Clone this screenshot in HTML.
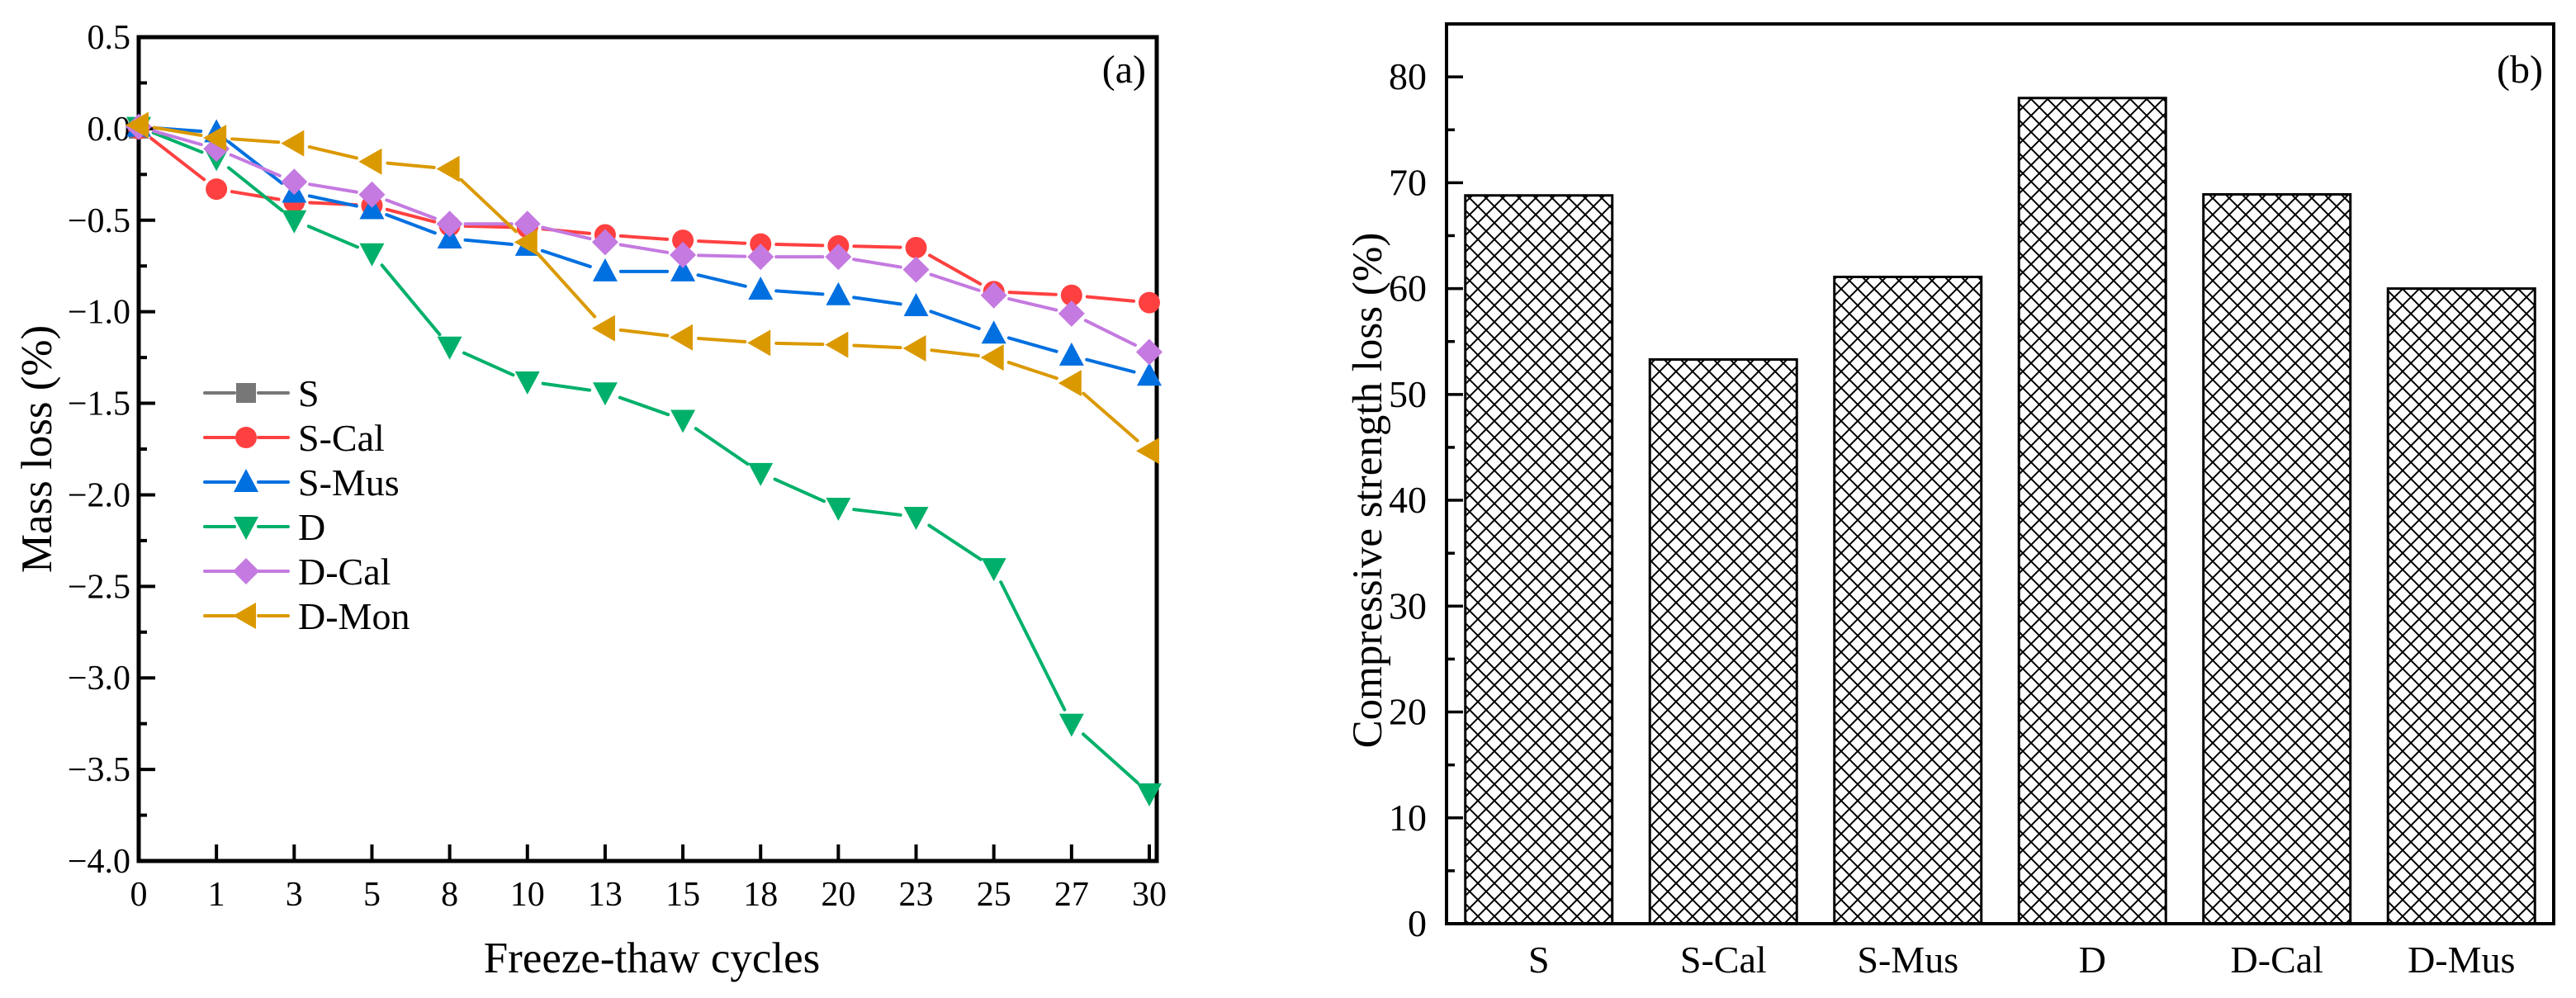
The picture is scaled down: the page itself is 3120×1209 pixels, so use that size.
<!DOCTYPE html>
<html><head><meta charset="utf-8">
<style>
html,body{margin:0;padding:0;background:#fff;}
svg{display:block;font-family:"Liberation Serif",serif;}
</style></head>
<body>
<svg id="chart" width="3120" height="1209" viewBox="0 0 3120 1209" xmlns="http://www.w3.org/2000/svg">
<defs>
<pattern id="hatch" width="20" height="20" patternUnits="userSpaceOnUse">
<path d="M-3,3 L3,-3 M0,20 L20,0 M17,23 L23,17" stroke="#000" stroke-width="2"/>
<path d="M-3,17 L3,23 M0,0 L20,20 M17,-3 L23,3" stroke="#000" stroke-width="2"/>
</pattern>
</defs>
<g id="left"></g>
<g id="right"></g>
</svg>
<script>
const cycles = ["0","1","3","5","8","10","13","15","18","20","23","25","27","30"];
const seriesNames = ["S","S-Cal","S-Mus","D","D-Cal","D-Mon"];
const sVals = [0.0];
const sCalVals = [0.0,-0.33,-0.40,-0.42,-0.53,-0.54,-0.58,-0.61,-0.63,-0.64,-0.65,-0.89,-0.91,-0.95];
const sMusVals = [0.01,-0.02,-0.35,-0.44,-0.60,-0.64,-0.78,-0.78,-0.88,-0.91,-0.97,-1.12,-1.24,-1.35];
const dVals = [0.01,-0.16,-0.50,-0.68,-1.19,-1.38,-1.44,-1.59,-1.88,-2.07,-2.12,-2.40,-3.25,-3.63];
const dCalVals = [0.01,-0.11,-0.29,-0.36,-0.52,-0.52,-0.62,-0.69,-0.70,-0.70,-0.77,-0.91,-1.01,-1.22];
const dMonVals = [0.02,-0.05,-0.08,-0.18,-0.22,-0.62,-1.09,-1.14,-1.17,-1.18,-1.20,-1.25,-1.39,-1.76];
const yTicksA = [0.5,0.0,-0.5,-1.0,-1.5,-2.0,-2.5,-3.0,-3.5,-4.0];
const barCats = ["S","S-Cal","S-Mus","D","D-Cal","D-Mus"];
const barVals = [68.8,53.3,61.1,78.0,68.9,60.0];
const yTicksB = [0,10,20,30,40,50,60,70,80];

const NS="http://www.w3.org/2000/svg";
function mk(parent,tag,attrs,text){const e=document.createElementNS(NS,tag);for(const k in attrs)e.setAttribute(k,attrs[k]);if(text!==undefined)e.textContent=text;parent.appendChild(e);return e;}

// ---------- Chart (a)
const L=document.getElementById('left');
const aX0=168,aX1=1401,aY0=45,aY1=1043,aFirst=168,aStep=(1392-168)/13;
const ax=i=>aFirst+i*aStep;
const ay=v=>aY0+(0.5-v)/4.5*(aY1-aY0);
let frame=mk(L,'rect',{x:aX0,y:aY0,width:aX1-aX0,height:aY1-aY0,fill:'none',stroke:'#000','stroke-width':5});


for(let v=0.5;v>=-4.0001;v-=0.25){
  const major=Math.abs(Math.round(v*2)-v*2)<1e-6;
  const t=mk(L,'line',{x1:aX0,x2:aX0+(major?20:10),y1:ay(v),y2:ay(v),stroke:'#000','stroke-width':4});
  
  
}
yTicksA.forEach(v=>{
  const s=(v<0?'\u2212':'')+Math.abs(v).toFixed(1);
  const t=mk(L,'text',{x:aX0-10,y:ay(v)+14,'font-size':42,'text-anchor':'end'},s);
  
  
});
cycles.forEach((c,i)=>{
  const t=mk(L,'line',{x1:ax(i),x2:ax(i),y1:aY1,y2:aY1-20,stroke:'#000','stroke-width':4});
  
  
  const l=mk(L,'text',{x:ax(i),y:1097,'font-size':42,'text-anchor':'middle'},c);
  
  
});
let xt=mk(L,'text',{x:(aX0+aX1)/2+5,y:1178,'font-size':53,'text-anchor':'middle'},'Freeze-thaw cycles');


let yt=mk(L,'text',{x:0,y:0,'font-size':53,'text-anchor':'middle',transform:`translate(62,${(aY0+aY1)/2}) rotate(-90)`},'Mass loss (%)');


let pa=mk(L,'text',{x:1388,y:100,'font-size':48,'text-anchor':'end'},'(a)');



const colors=['#777777','#FF4040','#0070E0','#00B06A','#C47AE0','#DB9900'];
const shapes=['square','circle','up','down','diamond','left'];
const allVals=[sVals,sCalVals,sMusVals,dVals,dCalVals,dMonVals];
function marker(g,shape,x,y,c){
  const r=14;let e;
  if(shape==='square')e=mk(g,'rect',{x:x-r+2,y:y-r+2,width:2*r-4,height:2*r-4,fill:c});
  else if(shape==='circle')e=mk(g,'circle',{cx:x,cy:y,r:r-1,fill:c});
  else{
    let p;
    if(shape==='up')p=[[x,y-r-2],[x+r+1,y+r-2],[x-r-1,y+r-2]];
    if(shape==='down')p=[[x,y+r+2],[x+r+1,y-r+2],[x-r-1,y-r+2]];
    if(shape==='diamond')p=[[x,y-r-2],[x+r+2,y],[x,y+r+2],[x-r-2,y]];
    if(shape==='left')p=[[x-r-2,y],[x+r-2,y-r-2],[x+r-2,y+r+2]];
    e=mk(g,'polygon',{points:p.map(q=>q.join(',')).join(' '),fill:c});
  }
  return e;
}
function seg(g,x1,y1,x2,y2,c,gap){
  const dx=x2-x1,dy=y2-y1,d=Math.hypot(dx,dy);if(d<2*gap+2)return;
  const ux=dx/d,uy=dy/d;
  mk(g,'line',{x1:x1+ux*gap,y1:y1+uy*gap,x2:x2-ux*gap,y2:y2-uy*gap,stroke:c,'stroke-width':4,'stroke-linecap':'round'});
}
allVals.forEach((vals,si)=>{
  const g=mk(L,'g',{});
  
  
  for(let i=1;i<vals.length;i++)seg(g,ax(i-1),ay(vals[i-1]),ax(i),ay(vals[i]),colors[si],19);
  vals.forEach((v,i)=>{
    const m=marker(g,shapes[si],ax(i),ay(v),colors[si]);
    
    
  });
});
// legend
seriesNames.forEach((n,si)=>{
  const y=476+si*54;
  const g=mk(L,'g',{});
  
  
  mk(g,'line',{x1:248,x2:284,y1:y,y2:y,stroke:colors[si],'stroke-width':4,'stroke-linecap':'round'});
  mk(g,'line',{x1:313,x2:349,y1:y,y2:y,stroke:colors[si],'stroke-width':4,'stroke-linecap':'round'});
  marker(g,shapes[si],298,y,colors[si]);
  mk(g,'text',{x:361,y:y+16,'font-size':46},n);
});

// ---------- Chart (b)
const R=document.getElementById('right');
const bX0=1752,bX1=3093,bY0=29,bY1=1119;
const by=v=>bY1-(v/85)*(bY1-bY0);
const band=(bX1-bX0)/barCats.length;
const bx=i=>bX0+band*(i+0.5);
barCats.forEach((c,i)=>{
  const w=178,h=bY1-by(barVals[i]);
  const r=mk(R,'rect',{x:bx(i)-w/2,y:by(barVals[i]),width:w,height:h,fill:'url(#hatch)',stroke:'#000','stroke-width':3});
  
  
  const l=mk(R,'text',{x:bx(i),y:1178,'font-size':46,'text-anchor':'middle'},c);
  
  
});
let fb=mk(R,'rect',{x:bX0,y:bY0,width:bX1-bX0,height:bY1-bY0,fill:'none',stroke:'#000','stroke-width':4});


for(let v=0;v<=85;v+=5){
  const major=v%10===0;
  const t=mk(R,'line',{x1:bX0,x2:bX0+(major?20:10),y1:by(v),y2:by(v),stroke:'#000','stroke-width':3.5});
  
  
}
yTicksB.forEach(v=>{
  const t=mk(R,'text',{x:bX0-24,y:by(v)+15,'font-size':46,'text-anchor':'end'},String(v));
  
  
});
let ytb=mk(R,'text',{x:0,y:0,'font-size':51,'text-anchor':'middle',transform:`translate(1673,${(bY0+bY1)/2+20}) rotate(-90)`},'Compressive strength loss (%)');


let pb=mk(R,'text',{x:3080,y:100,'font-size':48,'text-anchor':'end'},'(b)');


</script>
</body></html>
